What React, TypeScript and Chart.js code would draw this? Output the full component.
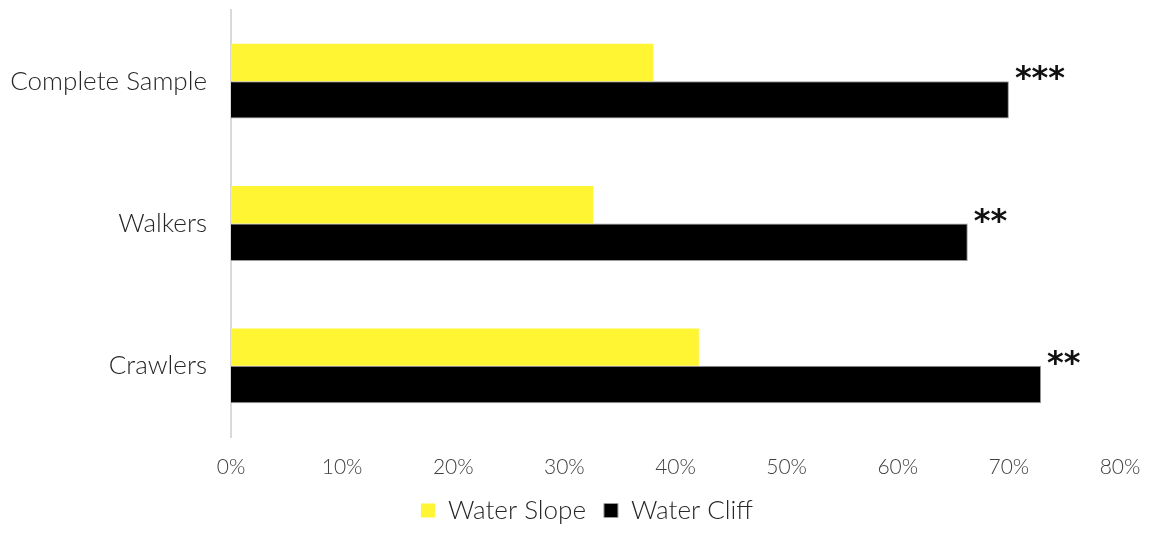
import React, { useEffect, useRef } from "react";
import { Chart, registerables } from "chart.js";

Chart.register(...registerables);

const categories = ["Complete Sample", "Walkers", "Crawlers"];
const waterSlope = [0.38, 0.326, 0.421];
const waterCliff = [0.70, 0.663, 0.729];
const significance = ["***", "**", "**"];
const xTicks = [0, 0.1, 0.2, 0.3, 0.4, 0.5, 0.6, 0.7, 0.8];

const FONT = "Lato, 'Noto Sans', sans-serif";

// Writes the significance stars just after the end of each Water Cliff bar
const starsPlugin = {
  id: "stars",
  afterDatasetsDraw(chart: any) {
    const meta = chart.getDatasetMeta(1);
    const ctx = chart.ctx;
    ctx.save();
    ctx.fillStyle = "#111";
    ctx.font = "bold 32px 'DejaVu Sans', sans-serif";
    ctx.textAlign = "left";
    ctx.textBaseline = "middle";
    meta.data.forEach((bar: any, i: number) => {
      const top = bar.y - bar.height / 2;
      ctx.fillText(significance[i], bar.x + 6, top - 1);
    });
    ctx.restore();
  },
};

// Centres the legend under the plot area
const legendShift = {
  id: "legendShift",
  afterLayout(chart: any) {
    const lg = chart.legend;
    if (!lg) return;
    lg.left += 23;
    lg.right += 23;
  },
};

export default function App() {
  const ref = useRef<HTMLCanvasElement | null>(null);

  useEffect(() => {
    if (!ref.current) return;
    const chart = new Chart(ref.current, {
      type: "bar",
      data: {
        labels: categories,
        datasets: [
          { label: "Water Slope", data: waterSlope, backgroundColor: "#FFF533", borderWidth: 0 },
          { label: "Water Cliff", data: waterCliff, backgroundColor: "#000000", borderColor: "#9a9a9a", borderWidth: 1 },
        ],
      },
      options: {
        indexAxis: "y",
        animation: false,
        responsive: true,
        maintainAspectRatio: false,
        layout: { padding: { top: 2, right: 30, bottom: -6.5, left: 0 } },
        datasets: { bar: { categoryPercentage: 0.526, barPercentage: 1 } },
        scales: {
          x: {
            min: 0,
            max: 0.8,
            afterBuildTicks(scale: any) {
              scale.ticks = xTicks.map((v) => ({ value: v }));
            },
            afterFit(scale: any) {
              scale.height = 42.5;
              scale.paddingLeft = 0;
              scale.paddingRight = 0;
            },
            ticks: {
              padding: 18,
              color: "#404040",
              font: { family: FONT, size: 21, weight: 300 },
              callback: (v: any) => Math.round(Number(v) * 100) + "%",
            },
            grid: { display: false, drawTicks: false },
            border: { display: false },
          },
          y: {
            afterFit(scale: any) {
              scale.width = 223;
              scale.paddingTop = 0;
              scale.paddingBottom = 0;
            },
            ticks: { padding: 24, color: "#262626", font: { family: FONT, size: 26, weight: 300 } },
            grid: { display: false, drawTicks: false },
            border: { display: true, color: "#d9d9d9", width: 2 },
          },
        },
        plugins: {
          legend: {
            position: "bottom",
            labels: { boxWidth: 14, boxHeight: 14, padding: 18, color: "#262626", font: { family: FONT, size: 26, weight: 300 } },
          },
          tooltip: { enabled: false },
        },
      },
      plugins: [starsPlugin, legendShift],
    });
    return () => chart.destroy();
  }, []);

  return (
    <div style={{ width: 1142, height: 519, position: "relative" }}>
      <canvas ref={ref} />
    </div>
  );
}
